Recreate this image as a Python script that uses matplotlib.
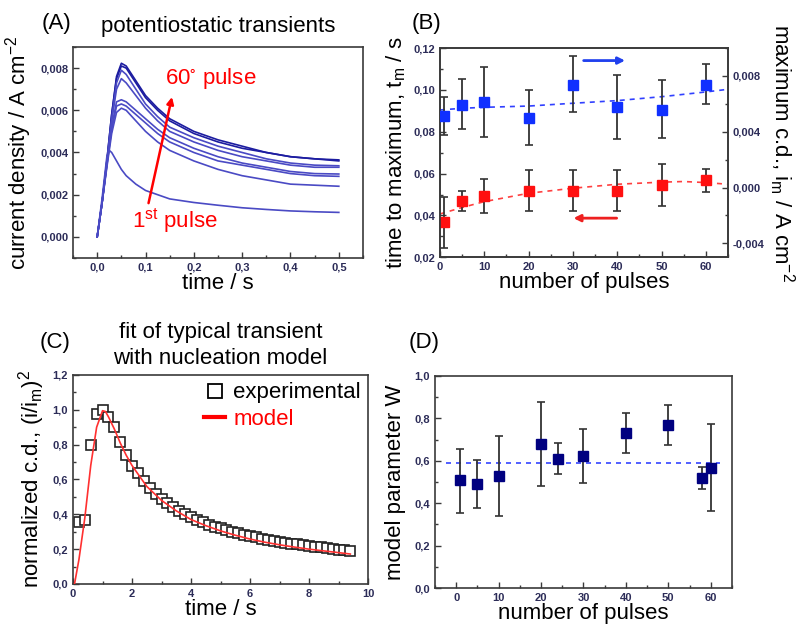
import numpy as np
import matplotlib
matplotlib.use("Agg")
import matplotlib.pyplot as plt
from matplotlib.ticker import MultipleLocator, FuncFormatter
from matplotlib.lines import Line2D

plt.rcParams["font.family"] = ["Liberation Sans", "DejaVu Sans"]
plt.rcParams["mathtext.default"] = "regular"

# (A) potentiostatic transients, 8 pulses
T_A = [0, 0.01, 0.02, 0.03, 0.04, 0.05, 0.06, 0.08, 0.10, 0.125, 0.15,
       0.20, 0.25, 0.30, 0.35, 0.40, 0.45, 0.50]
CURVES_A = [
    [0, 0.0016, 0.0036, 0.0058, 0.0076, 0.00823, 0.0081, 0.0074, 0.0067, 0.0061, 0.0056,
     0.0050, 0.0046, 0.0043, 0.0040, 0.0038, 0.0037, 0.00365],
    [0, 0.0016, 0.0036, 0.0058, 0.0075, 0.0081, 0.0080, 0.0073, 0.0066, 0.0060, 0.0055,
     0.0049, 0.0045, 0.0042, 0.0040, 0.0038, 0.0037, 0.0036],
    [0, 0.0016, 0.0035, 0.0056, 0.0073, 0.0079, 0.0077, 0.0070, 0.0063, 0.0057, 0.0052,
     0.0047, 0.0043, 0.0040, 0.0037, 0.0035, 0.0034, 0.00337],
    [0, 0.0016, 0.0035, 0.0055, 0.0070, 0.0075, 0.0073, 0.0067, 0.0061, 0.0055, 0.0050,
     0.0045, 0.0041, 0.0038, 0.0036, 0.0034, 0.0033, 0.0033],
    [0, 0.0016, 0.0034, 0.0052, 0.0064, 0.0065, 0.0064, 0.0060, 0.0056, 0.0051, 0.0047,
     0.0042, 0.0038, 0.0035, 0.0033, 0.0031, 0.0030, 0.00298],
    [0, 0.0016, 0.0034, 0.0051, 0.0062, 0.0063, 0.0062, 0.0058, 0.0054, 0.0049, 0.0045,
     0.0040, 0.0036, 0.0034, 0.0032, 0.0030, 0.0029, 0.00287],
    [0, 0.0016, 0.0033, 0.0049, 0.0059, 0.0061, 0.0060, 0.0055, 0.0050, 0.0045, 0.0041,
     0.0036, 0.0032, 0.0029, 0.0027, 0.0025, 0.00245, 0.0024],
]
T_FIRST = [0, 0.01, 0.02, 0.025, 0.03, 0.04, 0.05, 0.06, 0.08, 0.10, 0.125, 0.15,
           0.20, 0.25, 0.30, 0.35, 0.40, 0.45, 0.50]
I_FIRST = [0, 0.0018, 0.0038, 0.0041, 0.0040, 0.0036, 0.0032, 0.0029, 0.0025, 0.0022,
           0.0020, 0.0018, 0.00163, 0.0015, 0.00138, 0.0013, 0.00123, 0.00119, 0.00116]

# (B) time to maximum (left) and maximum c.d. (right)
PULSES_B = [1, 5, 10, 20, 30, 40, 50, 60]
TM = [0.0367, 0.047, 0.0495, 0.0519, 0.0519, 0.0519, 0.0544, 0.057]
TM_ERR_LO = [0.0243, 0.0419, 0.0411, 0.0419, 0.0419, 0.0419, 0.0447, 0.0514]
TM_ERR_HI = [0.049, 0.0519, 0.0575, 0.0615, 0.0615, 0.0615, 0.0645, 0.0621]
IM = [0.00515, 0.00592, 0.00613, 0.00501, 0.00738, 0.0058, 0.00558, 0.00738]
IM_ERR_LO = [0.00376, 0.00417, 0.00364, 0.00304, 0.00544, 0.00347, 0.00357, 0.00596]
IM_ERR_HI = [0.00651, 0.00776, 0.00862, 0.00697, 0.00944, 0.00807, 0.00769, 0.00886]
FIT_X_B = [0, 5, 10, 20, 30, 40, 50, 55, 60, 65]
TM_FIT = [0.0407, 0.0438, 0.0466, 0.0506, 0.053, 0.0549, 0.0559, 0.0562, 0.0557, 0.0549]
IM_FIT = [0.00556, 0.00568, 0.00575, 0.00584, 0.00604, 0.00623, 0.00651, 0.00668, 0.00685, 0.00704]

# (C) typical transient, experimental and model
T_EXP = [0.2, 0.4, 0.6, 0.8, 1.0, 1.2, 1.4, 1.6, 1.8, 2.0, 2.2, 2.4, 2.6, 2.8, 3.0,
         3.2, 3.4, 3.6, 3.8, 4.0, 4.2, 4.4, 4.6, 4.8, 5.0, 5.2, 5.4, 5.6, 5.8, 6.0,
         6.2, 6.4, 6.6, 6.8, 7.0, 7.2, 7.4, 7.6, 7.8, 8.0, 8.2, 8.4, 8.6, 8.8, 9.0,
         9.2, 9.4]
Y_EXP = [0.355, 0.365, 0.80, 0.975, 1.00, 0.96, 0.90, 0.815, 0.74, 0.68, 0.635, 0.59,
         0.55, 0.515, 0.49, 0.465, 0.44, 0.42, 0.40, 0.385, 0.37, 0.355, 0.34, 0.33,
         0.32, 0.31, 0.30, 0.29, 0.282, 0.275, 0.268, 0.26, 0.254, 0.248, 0.242, 0.237,
         0.232, 0.227, 0.222, 0.218, 0.214, 0.21, 0.206, 0.202, 0.198, 0.195, 0.19]
T_MOD = [0.05, 0.2, 0.4, 0.6, 0.8, 1.0, 1.1, 1.2, 1.4, 1.6, 1.8, 2.0, 2.5, 3.0, 3.5,
         4.0, 4.5, 5.0, 5.5, 6.0, 6.5, 7.0, 7.5, 8.0, 8.5, 9.0, 9.4]
Y_MOD = [0.0, 0.14, 0.38, 0.68, 0.90, 0.995, 0.99, 0.96, 0.89, 0.81, 0.74, 0.68, 0.56,
         0.48, 0.42, 0.37, 0.335, 0.305, 0.28, 0.258, 0.24, 0.225, 0.212, 0.20, 0.19,
         0.18, 0.172]

# (D) model parameter W
PULSES_D = [1, 5, 10, 20, 24, 30, 40, 50, 58, 60]
W = [0.508, 0.492, 0.528, 0.678, 0.61, 0.623, 0.731, 0.769, 0.519, 0.568]
W_LO = [0.355, 0.377, 0.338, 0.481, 0.539, 0.497, 0.637, 0.676, 0.465, 0.365]
W_HI = [0.657, 0.605, 0.719, 0.876, 0.682, 0.752, 0.825, 0.862, 0.572, 0.772]
W_MEAN = 0.588

LBL = 16
TICK_COL = "#2c2c58"
SPINE_COL = "#3a3a3a"


def comma(dec):
    def f(v, pos):
        s = f"{v:.{dec}f}"
        if s.startswith("-") and float(s) == 0:
            s = s[1:]
        return s.replace(".", ",")
    return FuncFormatter(f)


def style(ax):
    for sp in ax.spines.values():
        sp.set_color(SPINE_COL)
        sp.set_linewidth(1.2)
    ax.tick_params(which="both", direction="in", colors=SPINE_COL,
                   labelcolor=TICK_COL, labelsize=8, width=1.0)
    ax.tick_params(which="major", length=4)
    ax.tick_params(which="minor", length=2.5)
    for lab in ax.get_xticklabels() + ax.get_yticklabels():
        lab.set_fontweight("bold")


fig = plt.figure(figsize=(7.99, 6.26), dpi=100)
axA = fig.add_axes([0.0914, 0.5879, 0.3629, 0.3370])
axB = fig.add_axes([0.5507, 0.5890, 0.3604, 0.3343])
axC = fig.add_axes([0.0914, 0.0671, 0.3692, 0.3339])
axD = fig.add_axes([0.5444, 0.0607, 0.3717, 0.3387])

# ---- (A)
for i, c in enumerate(CURVES_A):
    axA.plot(T_A, c, color="#1c1ca0" if i < 2 else "#4a4ac4", lw=1.2)
axA.plot(T_FIRST, I_FIRST, color="#4a4ac4", lw=1.2)
axA.set_xlim(-0.05, 0.55)
axA.set_ylim(-0.001, 0.009)
axA.xaxis.set_major_locator(MultipleLocator(0.1))
axA.xaxis.set_minor_locator(MultipleLocator(0.05))
axA.yaxis.set_major_locator(MultipleLocator(0.002))
axA.yaxis.set_minor_locator(MultipleLocator(0.001))
axA.xaxis.set_major_formatter(comma(1))
axA.yaxis.set_major_formatter(comma(3))
axA.set_xlabel("time / s", fontsize=LBL, labelpad=0)
axA.set_ylabel("current density / A cm$^{-2}$", fontsize=LBL, labelpad=4)
axA.set_title("potentiostatic transients", fontsize=LBL, pad=11)
axA.annotate("", xy=(0.156, 0.00676), xytext=(0.105, 0.00147),
             arrowprops=dict(arrowstyle="-|>", color="red", lw=1.8, mutation_scale=10))
axA.text(0.141, 0.0075, "60$^{\\circ}$ pulse", color="red", fontsize=LBL, va="center")
axA.text(0.073, 0.00077, "1$^{st}$ pulse", color="red", fontsize=LBL, va="center")
style(axA)

# ---- (B)
axB2 = axB.twinx()
axB.errorbar(PULSES_B, TM,
             yerr=[np.subtract(TM, TM_ERR_LO), np.subtract(TM_ERR_HI, TM)],
             fmt="s", color="#ff1010", ms=6.5, ecolor="#333333", elinewidth=1.3,
             capsize=3, capthick=1.2, zorder=3)
axB.plot(FIT_X_B, TM_FIT, color="#ff4040", lw=1.2, ls=(0, (3, 3)), zorder=2)
axB2.errorbar(PULSES_B, IM,
              yerr=[np.subtract(IM, IM_ERR_LO), np.subtract(IM_ERR_HI, IM)],
              fmt="s", color="#1030ff", ms=6.5, ecolor="#333333", elinewidth=1.3,
              capsize=3, capthick=1.2, zorder=3)
axB2.plot(FIT_X_B, IM_FIT, color="#3040ff", lw=1.2, ls=(0, (3, 3)), zorder=2)
axB.set_xlim(0, 65)
axB.set_ylim(0.02, 0.12)
axB2.set_ylim(-0.005, 0.010)
axB.xaxis.set_major_locator(MultipleLocator(10))
axB.xaxis.set_minor_locator(MultipleLocator(5))
axB.yaxis.set_major_locator(MultipleLocator(0.02))
axB.yaxis.set_minor_locator(MultipleLocator(0.01))
axB2.yaxis.set_major_locator(MultipleLocator(0.004))
axB2.yaxis.set_minor_locator(MultipleLocator(0.002))
axB.xaxis.set_major_formatter(FuncFormatter(lambda v, p: f"{v:.0f}"))
axB.yaxis.set_major_formatter(comma(2))
axB2.yaxis.set_major_formatter(comma(3))
axB.annotate("", xy=(42.4, 0.114), xytext=(31.8, 0.114),
             arrowprops=dict(arrowstyle="-|>", color="#2040ee", lw=2, mutation_scale=10))
axB.annotate("", xy=(29.5, 0.0387), xytext=(40.5, 0.0387),
             arrowprops=dict(arrowstyle="-|>", color="#ee2020", lw=2, mutation_scale=10))
axB.set_xlabel("number of pulses", fontsize=LBL, labelpad=0)
axB.set_ylabel("time to maximum, t$_m$ / s", fontsize=LBL, labelpad=4)
axB2.set_ylabel("maximum c.d., i$_m$ / A cm$^{-2}$", fontsize=LBL, rotation=270, labelpad=23)
style(axB)
style(axB2)

# ---- (C)
axC.plot(T_MOD, Y_MOD, color="#ff3030", lw=1.2, zorder=3)
axC.plot(T_EXP, Y_EXP, ls="none", marker="s", ms=7, mfc="white", mec="#222222",
         mew=1.2, zorder=2)
axC.set_xlim(0, 10)
axC.set_ylim(0, 1.2)
axC.xaxis.set_major_locator(MultipleLocator(2))
axC.xaxis.set_minor_locator(MultipleLocator(1))
axC.yaxis.set_major_locator(MultipleLocator(0.2))
axC.yaxis.set_minor_locator(MultipleLocator(0.1))
axC.xaxis.set_major_formatter(FuncFormatter(lambda v, p: f"{v:.0f}"))
axC.yaxis.set_major_formatter(comma(1))
axC.set_xlabel("time / s", fontsize=LBL, labelpad=0)
axC.set_ylabel("normalized c.d., (i/i$_m$)$^2$", fontsize=LBL, labelpad=4)
axC.set_title("fit of typical transient\nwith nucleation model", fontsize=LBL,
              pad=8, linespacing=1.3)
h_exp = Line2D([], [], ls="none", marker="s", ms=10, mfc="white", mec="black", mew=1.3)
h_mod = Line2D([], [], color="red", lw=3)
axC.legend([h_exp, h_mod], ["experimental", "model"], loc="upper left",
           bbox_to_anchor=(0.445, 0.965), frameon=False, fontsize=LBL,
           labelcolor=["black", "red"], handlelength=0.95, handletextpad=0.35,
           labelspacing=0.25, borderpad=0, borderaxespad=0)
style(axC)

# ---- (D)
axD.errorbar(PULSES_D, W, yerr=[np.subtract(W, W_LO), np.subtract(W_HI, W)],
             fmt="s", color="#000080", ms=6.5, ecolor="#333333", elinewidth=1.3,
             capsize=3, capthick=1.2, zorder=3)
axD.plot([-2.5, 62.2], [W_MEAN, W_MEAN], color="#3344ff", lw=1.2, ls=(0, (3, 3)), zorder=2)
axD.set_xlim(-5, 65)
axD.set_ylim(0, 1.0)
axD.xaxis.set_major_locator(MultipleLocator(10))
axD.xaxis.set_minor_locator(MultipleLocator(5))
axD.yaxis.set_major_locator(MultipleLocator(0.2))
axD.yaxis.set_minor_locator(MultipleLocator(0.1))
axD.xaxis.set_major_formatter(FuncFormatter(lambda v, p: f"{v:.0f}"))
axD.yaxis.set_major_formatter(comma(1))
axD.set_xlabel("number of pulses", fontsize=LBL, labelpad=0)
axD.set_ylabel("model parameter W", fontsize=LBL, labelpad=6)
style(axD)

for lab, x, y in [("(A)", 0.052, 0.963), ("(B)", 0.515, 0.963),
                  ("(C)", 0.050, 0.453), ("(D)", 0.512, 0.453)]:
    fig.text(x, y, lab, fontsize=LBL, va="center")

fig.savefig("out.png", dpi=100)
